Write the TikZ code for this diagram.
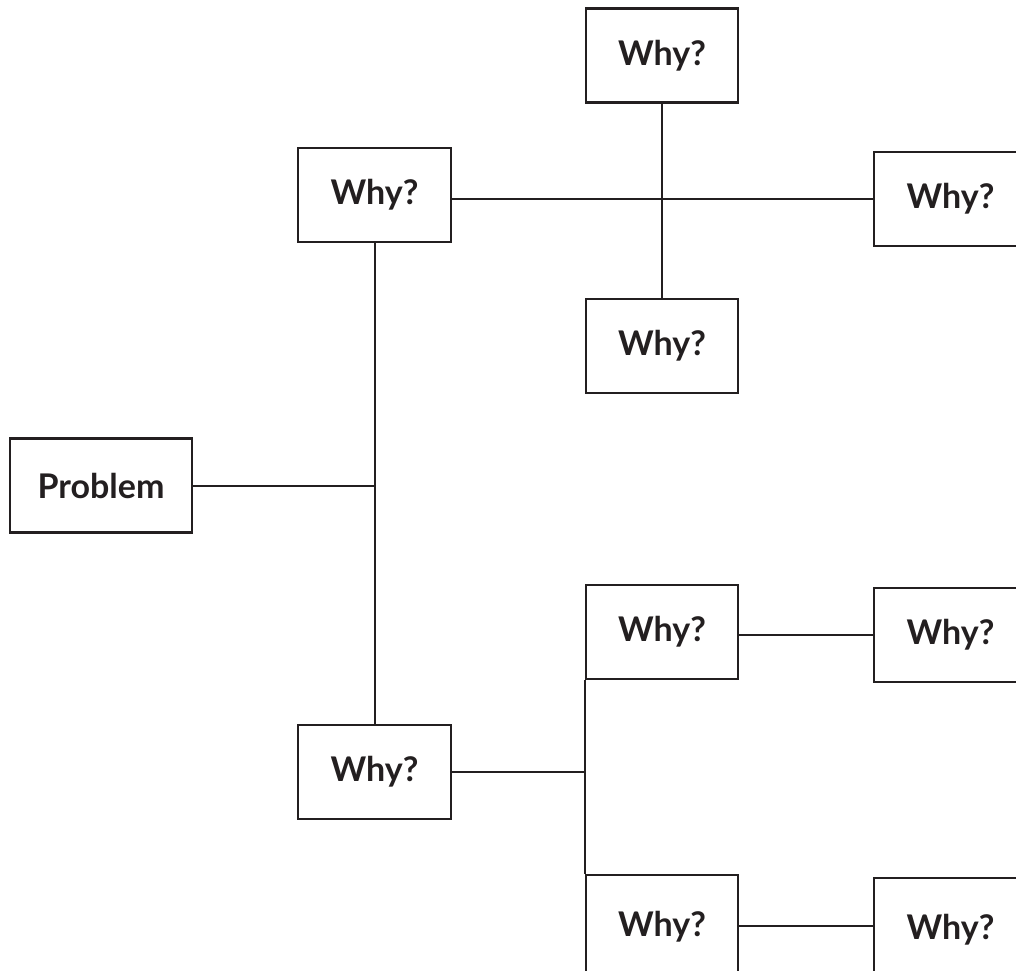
\documentclass[tikz,border=0pt]{standalone}
\usepackage{fontspec}
\setmainfont{Lato}
\definecolor{ink}{HTML}{231F20}
\begin{document}
\begin{tikzpicture}[x=1pt,y=-1pt,
  box/.style={draw=ink,line width=2.6pt,fill=white,minimum width=152pt,minimum height=94pt,inner sep=0pt,font=\fontsize{34}{40}\selectfont\bfseries,text=ink},
  conn/.style={draw=ink,line width=2pt}]
\useasboundingbox (0,0) rectangle (1016,970);
\clip (0,0) rectangle (1016,970);
\node[box] (top) at (662,55.5) {Why?};
\node[box,minimum width=153pt] (uL) at (374.5,195) {Why?};
\node[box,minimum width=153pt] (uR) at (950.5,199) {Why?};
\node[box] (mid) at (662,346) {Why?};
\node[box,minimum width=182pt] (prob) at (101,485.5) {Problem};
\node[box] (mR) at (662,632) {Why?};
\node[box,minimum width=153pt] (mRR) at (950.5,635) {Why?};
\node[box,minimum width=153pt] (lL) at (374.5,772) {Why?};
\node[box,minimum height=104pt] (bot) at (662,927) {\raisebox{5pt}{Why?}};
\node[box,minimum width=153pt,minimum height=104pt] (bR) at (950.5,930) {\raisebox{5pt}{Why?}};
\draw[conn] (top.south) -- (mid.north);
\draw[conn] (uL.east |- uR.west) -- (uR.west);
\draw[conn] (uL.south) -- (lL.north);
\draw[conn] (prob.east) -- (prob.east -| uL.south);
\draw[conn] (lL.east) -- (lL.east -| mR.west);
\draw[conn] (mR.south west) -- (bot.north west);
\draw[conn] (mR.east |- mRR.west) -- (mRR.west);
\draw[conn] (bot.east |- 0,926) -- (bR.west |- 0,926);
\end{tikzpicture}
\end{document}
